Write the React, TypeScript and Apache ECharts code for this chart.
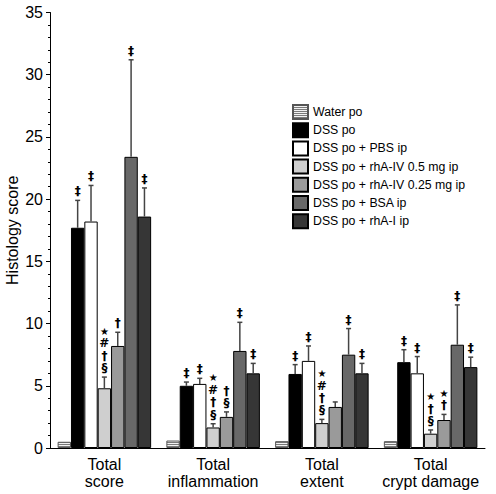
import React, { useEffect, useRef } from "react";
import * as echarts from "echarts";

const categories = ["Total\nscore", "Total\ninflammation", "Total\nextent", "Total\ncrypt damage"];
const seriesNames = [
  "Water po",
  "DSS po",
  "DSS po + PBS ip",
  "DSS po + rhA-IV 0.5 mg ip",
  "DSS po + rhA-IV 0.25 mg ip",
  "DSS po + BSA ip",
  "DSS po + rhA-I ip",
];
const yTicks = [0, 5, 10, 15, 20, 25, 30, 35];

// means
const waterPo = [0.5, 0.6, 0.55, 0.55];
const dssPo = [17.7, 5.0, 5.95, 6.9];
const dssPbs = [18.2, 5.15, 7.0, 6.0];
const rhaIV05 = [4.8, 1.65, 2.0, 1.15];
const rhaIV025 = [8.2, 2.5, 3.3, 2.25];
const dssBsa = [23.4, 7.8, 7.5, 8.3];
const rhaI = [18.6, 6.0, 6.0, 6.5];

// upper end of error bars (mean + SD)
const waterErr = [null, null, null, null];
const dssPoErr = [19.9, 5.3, 6.7, 7.9];
const dssPbsErr = [21.1, 5.6, 8.2, 7.35];
const rhaIV05Err = [5.7, 1.95, 2.3, 1.45];
const rhaIV025Err = [9.3, 2.9, 3.7, 2.7];
const dssBsaErr = [31.2, 10.1, 9.6, 11.5];
const rhaIErr = [20.9, 6.8, 6.8, 7.3];

// significance marks (top to bottom)
const waterMarks = [[], [], [], []];
const dssPoMarks = [["‡"], ["‡"], ["‡"], ["‡"]];
const dssPbsMarks = [["‡"], ["‡"], ["‡"], ["‡"]];
const rhaIV05Marks = [["★", "#", "†", "§"], ["★", "#", "†", "§"], ["★", "#", "†", "§"], ["★", "†", "§"]];
const rhaIV025Marks = [["†"], ["†", "§"], [], ["★", "†"]];
const dssBsaMarks = [["‡"], ["‡"], ["‡"], ["‡"]];
const rhaIMarks = [["‡"], ["‡"], ["‡"], ["‡"]];

const means = [waterPo, dssPo, dssPbs, rhaIV05, rhaIV025, dssBsa, rhaI];
const errs = [waterErr, dssPoErr, dssPbsErr, rhaIV05Err, rhaIV025Err, dssBsaErr, rhaIErr];
const marks: string[][][] = [waterMarks, dssPoMarks, dssPbsMarks, rhaIV05Marks, rhaIV025Marks, dssBsaMarks, rhaIMarks];

const FONT = "'Liberation Sans', Arial, Helvetica, sans-serif";
const MARK_FONT = "'DejaVu Sans', 'Liberation Sans', sans-serif";
const CAT_GAP = 0.14;

export default function App() {
  const ref = useRef<HTMLDivElement>(null);
  useEffect(() => {
    if (!ref.current) return;
    const chart = echarts.init(ref.current, null, { renderer: "svg" });

    const cv = document.createElement("canvas");
    cv.width = 4;
    cv.height = 2;
    const ctx = cv.getContext("2d")!;
    ctx.fillStyle = "#f2f2f2";
    ctx.fillRect(0, 0, 4, 2);
    ctx.fillStyle = "#7a7a7a";
    ctx.fillRect(0, 0, 4, 1);

    const fills: any[] = [
      { image: cv, repeat: "repeat" },
      "#000000",
      "#ffffff",
      "#cfcfcf",
      "#9a9a9a",
      "#686868",
      "#363636",
    ];

    const barSeries = seriesNames.map((name, i) => ({
      name,
      type: "bar",
      data: means[i],
      barGap: "0%",
      barCategoryGap: CAT_GAP * 100 + "%",
      itemStyle: {
        color: fills[i],
        borderColor: i === 0 ? "#555" : "#000",
        borderWidth: 1,
      },
    }));

    const errData: any[] = [];
    for (let c = 0; c < categories.length; c++) {
      for (let s = 0; s < seriesNames.length; s++) {
        errData.push([c, s, means[s][c], errs[s][c] == null ? means[s][c] : errs[s][c]]);
      }
    }

    const errSeries = {
      type: "custom",
      name: "err",
      z: 5,
      data: errData,
      renderItem: (params: any, api: any) => {
        const c = api.value(0);
        const s = api.value(1);
        const v = api.value(2);
        const e = api.value(3);
        const band = api.size([1, 0])[0];
        const used = band * (1 - CAT_GAP);
        const bw = used / seriesNames.length;
        const center = api.coord([c, 0])[0];
        const x = center - used / 2 + (s + 0.5) * bw;
        const yv = api.coord([c, v])[1];
        const ye = api.coord([c, e])[1];
        const children: any[] = [];
        if (errs[s][c] != null) {
          children.push({
            type: "line",
            shape: { x1: x, y1: yv, x2: x, y2: ye },
            style: { stroke: "#444", lineWidth: 1.5 },
          });
          children.push({
            type: "line",
            shape: { x1: x - 2.5, y1: ye, x2: x + 2.5, y2: ye },
            style: { stroke: "#444", lineWidth: 1.5 },
          });
        }
        const m = marks[s][c];
        const n = m.length;
        m.forEach((sym, k) => {
          const fromBottom = n - 1 - k;
          const isStar = sym === "★";
          children.push({
            type: "text",
            style: {
              text: sym,
              x,
              y: ye - 3 - fromBottom * 12.3,
              align: "center",
              verticalAlign: "bottom",
              font: (isStar ? "bold 10px " : "bold 12px ") + MARK_FONT,
              lineHeight: 12,
              fill: "#000",
            },
          });
        });
        return { type: "group", children };
      },
    };

    chart.setOption({
      animation: false,
      textStyle: { fontFamily: FONT, color: "#000" },
      grid: { left: 50, right: 11, top: 12.5, bottom: 46, outerBoundsMode: "none", containLabel: false },
      legend: {
        data: seriesNames,
        orient: "vertical",
        left: 287,
        top: 99,
        itemWidth: 15,
        itemHeight: 14,
        itemGap: 2.2,
        icon: "rect",
        textStyle: { fontSize: 12.3, color: "#000", fontFamily: FONT },
        selectedMode: false,
      },
      xAxis: {
        type: "category",
        data: categories,
        axisLine: { lineStyle: { color: "#000", width: 1 } },
        axisTick: { alignWithLabel: true, length: 4, lineStyle: { color: "#000" } },
        axisLabel: { fontSize: 16, color: "#000", lineHeight: 17, margin: 8, interval: 0 },
      },
      yAxis: {
        type: "value",
        min: 0,
        max: 35,
        interval: 5,
        name: "Histology score",
        nameLocation: "middle",
        nameGap: 30,
        nameMoveOverlap: false,
        nameTextStyle: { fontSize: 16, color: "#000" },
        splitLine: { show: false },
        axisLine: { show: true, lineStyle: { color: "#000", width: 1 } },
        axisTick: { show: true, length: 4, lineStyle: { color: "#000" } },
        minorTick: { show: true, splitNumber: 5, length: 2, lineStyle: { color: "#000" } },
        axisLabel: {
          fontSize: 16,
          color: "#000",
          margin: 7,
          formatter: (v: number) => (yTicks.includes(v) ? String(v) : ""),
        },
      },
      series: [...barSeries, errSeries],
    });
    return () => chart.dispose();
  }, []);
  return (
    <div
      ref={ref}
      style={{ position: "fixed", left: 0, top: 0, width: 496, height: 494, background: "#fff" }}
    />
  );
}
